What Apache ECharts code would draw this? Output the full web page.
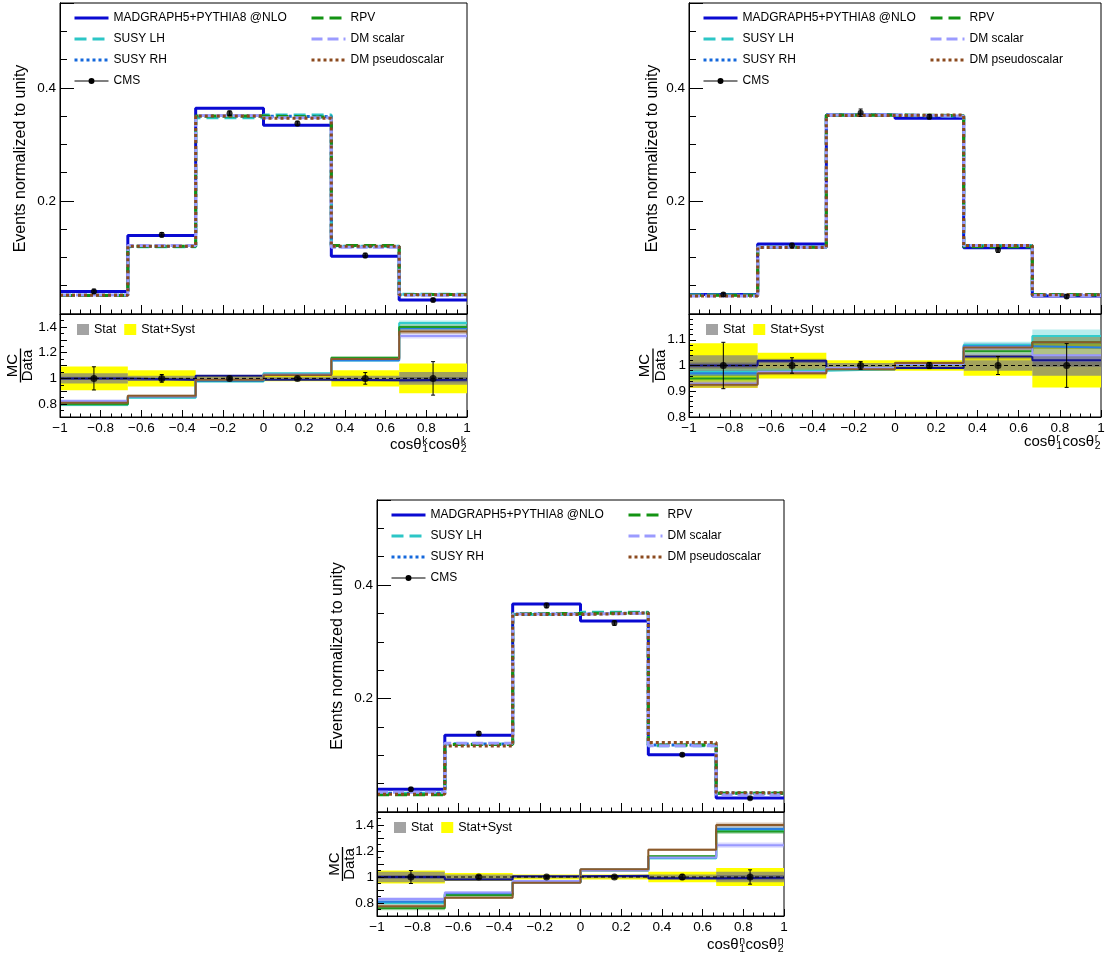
<!DOCTYPE html>
<html>
<head>
<meta charset="utf-8">
<title>Spin correlation observables</title>
<script src="https://cdn.jsdelivr.net/npm/echarts@6/dist/echarts.min.js"></script>
<style>
    html, body { margin: 0; padding: 0; background: #fff; }
    #main { width: 1106px; height: 963px; }
</style>
</head>
<body>
<div id="main"></div>
<script>
var FONT = '"Liberation Sans", Arial, Helvetica, sans-serif';

// binning shared by the three distributions
var binEdges = [-1, -0.6667, -0.3333, 0, 0.3333, 0.6667, 1];
var binCenters = [-0.8333, -0.5, -0.1667, 0.1667, 0.5, 0.8333];
var modelNames = ['MADGRAPH5+PYTHIA8 @NLO', 'SUSY LH', 'SUSY RH', 'RPV', 'DM scalar', 'DM pseudoscalar'];
var ratioRef = 1;

// cos(theta1 k) cos(theta2 k)
var kData = [0.0400, 0.1400, 0.3550, 0.3370, 0.1035, 0.0246];
var kDataErr = [0.004, 0.004, 0.004, 0.004, 0.004, 0.003];
var kMadgraph = [0.0400, 0.1390, 0.3640, 0.3340, 0.1020, 0.0246];
var kSusyLH = [0.0330, 0.1190, 0.3470, 0.3520, 0.1200, 0.0350];
var kSusyRH = [0.0330, 0.1200, 0.3500, 0.3490, 0.1190, 0.0340];
var kRpv = [0.0325, 0.1200, 0.3500, 0.3480, 0.1210, 0.0345];
var kDmScalar = [0.0335, 0.1210, 0.3510, 0.3470, 0.1180, 0.0330];
var kDmPseudo = [0.0330, 0.1200, 0.3500, 0.3460, 0.1200, 0.0340];
var kRatioMadgraph = [1.00, 0.99, 1.02, 0.99, 0.985, 0.99];
var kRatioSusyLH = [0.795, 0.85, 0.975, 1.04, 1.14, 1.43];
var kRatioSusyRH = [0.81, 0.855, 0.98, 1.03, 1.14, 1.39];
var kRatioRpv = [0.80, 0.86, 0.985, 1.03, 1.16, 1.40];
var kRatioDmScalar = [0.825, 0.86, 0.99, 1.03, 1.15, 1.33];
var kRatioDmPseudo = [0.81, 0.865, 0.99, 1.025, 1.15, 1.365];
var kStat = [0.04, 0.02, 0.01, 0.01, 0.02, 0.05];
var kStatSyst = [0.093, 0.064, 0.025, 0.022, 0.064, 0.115];
var kRatioErr = [0.09, 0.03, 0.01, 0.01, 0.045, 0.13];
var kMcUnc = [0.012, 0.008, 0.005, 0.005, 0.01, 0.02];

// cos(theta1 r) cos(theta2 r)
var rData = [0.0345, 0.1210, 0.3560, 0.3490, 0.1130, 0.0310];
var rDataErr = [0.003, 0.004, 0.0065, 0.004, 0.004, 0.003];
var rMadgraph = [0.0345, 0.1240, 0.3520, 0.3460, 0.1170, 0.0320];
var rSusyLH = [0.0335, 0.1180, 0.3510, 0.3500, 0.1210, 0.0345];
var rSusyRH = [0.0335, 0.1180, 0.3520, 0.3500, 0.1210, 0.0335];
var rRpv = [0.0330, 0.1180, 0.3520, 0.3510, 0.1190, 0.0340];
var rDmScalar = [0.0320, 0.1180, 0.3520, 0.3500, 0.1210, 0.0325];
var rDmPseudo = [0.0320, 0.1175, 0.3510, 0.3520, 0.1210, 0.0340];
var rRatioMadgraph = [1.00, 1.018, 0.99, 0.99, 1.035, 1.02];
var rRatioSusyLH = [0.975, 0.98, 0.985, 1.005, 1.08, 1.115];
var rRatioSusyRH = [0.97, 0.975, 0.99, 1.005, 1.075, 1.07];
var rRatioRpv = [0.95, 0.975, 0.99, 1.01, 1.055, 1.09];
var rRatioDmScalar = [0.93, 0.975, 0.99, 1.005, 1.07, 1.04];
var rRatioDmPseudo = [0.925, 0.97, 0.985, 1.01, 1.07, 1.09];
var rStat = [0.04, 0.02, 0.01, 0.01, 0.02, 0.04];
var rStatSyst = [0.086, 0.05, 0.02, 0.02, 0.04, 0.085];
var rRatioErr = [0.09, 0.03, 0.015, 0.012, 0.035, 0.085];
var rMcUnc = [0.012, 0.008, 0.005, 0.005, 0.012, 0.025];

// cos(theta1 n) cos(theta2 n)
var nData = [0.0400, 0.1385, 0.3640, 0.3330, 0.1010, 0.0243];
var nDataErr = [0.003, 0.003, 0.004, 0.004, 0.003, 0.002];
var nMadgraph = [0.0400, 0.1355, 0.3666, 0.3367, 0.1010, 0.0246];
var nSusyLH = [0.0330, 0.1200, 0.3480, 0.3520, 0.1170, 0.0330];
var nSusyRH = [0.0330, 0.1200, 0.3490, 0.3510, 0.1180, 0.0333];
var nRpv = [0.0305, 0.1190, 0.3500, 0.3510, 0.1180, 0.0330];
var nDmScalar = [0.0350, 0.1210, 0.3490, 0.3500, 0.1170, 0.0303];
var nDmPseudo = [0.0315, 0.1165, 0.3480, 0.3510, 0.1225, 0.0340];
var nRatioMadgraph = [1.00, 0.98, 1.005, 1.01, 0.99, 0.995];
var nRatioSusyLH = [0.80, 0.87, 0.96, 1.055, 1.145, 1.36];
var nRatioSusyRH = [0.81, 0.87, 0.96, 1.055, 1.15, 1.37];
var nRatioRpv = [0.76, 0.86, 0.965, 1.05, 1.16, 1.35];
var nRatioDmScalar = [0.83, 0.88, 0.97, 1.05, 1.15, 1.245];
var nRatioDmPseudo = [0.775, 0.84, 0.955, 1.06, 1.21, 1.40];
var nStat = [0.04, 0.02, 0.01, 0.01, 0.02, 0.04];
var nStatSyst = [0.05, 0.03, 0.02, 0.02, 0.04, 0.07];
var nRatioErr = [0.05, 0.012, 0.01, 0.01, 0.02, 0.055];
var nMcUnc = [0.015, 0.01, 0.005, 0.005, 0.01, 0.02];

// styles
var histColors = ['#0a0ad2', '#2cc6c6', '#1468dc', '#139313', '#9b9bff', '#8b4a1e'];
var histDash = ['solid', [12, 6], [3, 3], [12, 6], [11, 5], [3, 3]];
var ratioColors = ['#14148c', '#33cccc', '#2a7fe0', '#229922', '#9999ff', '#8b5a2b'];
var ratioBandColors = ['rgba(20,20,140,0.3)', 'rgba(51,204,204,0.35)', 'rgba(42,127,224,0.3)',
    'rgba(34,153,34,0.3)', 'rgba(153,153,255,0.35)', 'rgba(139,90,43,0.3)'];
var CMS_ICON = 'path://M0,6.5H34V7.5H0Z M17,4A3,3 0 1,1 17,10A3,3 0 1,1 17,4Z';

var panels = [
    {
        letter: 'k', left: 60, top: 3, width: 407, upH: 311, loH: 103,
        data: kData, dataErr: kDataErr,
        hists: [kMadgraph, kSusyLH, kSusyRH, kRpv, kDmScalar, kDmPseudo],
        ratios: [kRatioMadgraph, kRatioSusyLH, kRatioSusyRH, kRatioRpv, kRatioDmScalar, kRatioDmPseudo],
        stat: kStat, statSyst: kStatSyst, ratioErr: kRatioErr, mcUnc: kMcUnc,
        rMin: 0.7, rMax: 1.5, rMinor: 2, rLabels: [0.8, 1, 1.2, 1.4],
        nameGap: 31, mcX: 20.5, titleBase: 450, leg2: 250
    },
    {
        letter: 'r', left: 689, top: 3, width: 412, upH: 311, loH: 103,
        data: rData, dataErr: rDataErr,
        hists: [rMadgraph, rSusyLH, rSusyRH, rRpv, rDmScalar, rDmPseudo],
        ratios: [rRatioMadgraph, rRatioSusyLH, rRatioSusyRH, rRatioRpv, rRatioDmScalar, rRatioDmPseudo],
        stat: rStat, statSyst: rStatSyst, ratioErr: rRatioErr, mcUnc: rMcUnc,
        rMin: 0.8, rMax: 1.2, rMinor: 5, rLabels: [0.8, 0.9, 1, 1.1],
        nameGap: 28, mcX: 653, titleBase: 447, leg2: 240
    },
    {
        letter: 'n', left: 377, top: 500, width: 407, upH: 312, loH: 104,
        data: nData, dataErr: nDataErr,
        hists: [nMadgraph, nSusyLH, nSusyRH, nRpv, nDmScalar, nDmPseudo],
        ratios: [nRatioMadgraph, nRatioSusyLH, nRatioSusyRH, nRatioRpv, nRatioDmScalar, nRatioDmPseudo],
        stat: nStat, statSyst: nStatSyst, ratioErr: nRatioErr, mcUnc: nMcUnc,
        rMin: 0.7, rMax: 1.5, rMinor: 2, rLabels: [0.8, 1, 1.2, 1.4],
        nameGap: 31, mcX: 342.5, titleBase: 950, leg2: 250
    }
];

function fmtNum(v) {
    return String(Math.round(v * 1000) / 1000).replace('-', '\u2212');
}

function inList(v, list) {
    for (var i = 0; i < list.length; i++) {
        if (Math.abs(v - list[i]) < 1e-6) return true;
    }
    return false;
}

function stepData(vals) {
    return binEdges.map(function (e, i) {
        return [e, vals[Math.min(i, vals.length - 1)]];
    });
}

function bandData(center, half) {
    return half.map(function (h, i) {
        var c = Array.isArray(center) ? center[i] : center;
        return [binEdges[i], binEdges[i + 1], c - h, c + h];
    });
}

function pointData(vals, errs) {
    return binCenters.map(function (x, i) {
        var v = Array.isArray(vals) ? vals[i] : vals;
        return [x, v, errs[i]];
    });
}

function bandRender(params, api) {
    var a = api.coord([api.value(0), api.value(3)]);
    var b = api.coord([api.value(1), api.value(2)]);
    return {
        type: 'rect',
        shape: {x: a[0], y: a[1], width: b[0] - a[0], height: b[1] - a[1]},
        style: {fill: api.visual('color')}
    };
}

function errorRender(params, api) {
    var x = api.value(0), y = api.value(1), e = api.value(2);
    var top = api.coord([x, y + e]);
    var bot = api.coord([x, y - e]);
    var st = {stroke: '#000', lineWidth: 1};
    return {
        type: 'group',
        children: [
            {type: 'line', shape: {x1: top[0], y1: top[1], x2: bot[0], y2: bot[1]}, style: st},
            {type: 'line', shape: {x1: top[0] - 2, y1: top[1], x2: top[0] + 2, y2: top[1]}, style: st},
            {type: 'line', shape: {x1: bot[0] - 2, y1: bot[1], x2: bot[0] + 2, y2: bot[1]}, style: st}
        ]
    };
}

var measureCtx = document.createElement('canvas').getContext('2d');
function textWidth(str, size) {
    measureCtx.font = size + 'px ' + FONT;
    return measureCtx.measureText(str).width;
}

function plainText(x, y, str, size, align) {
    return {
        type: 'text', x: x, y: y,
        style: {text: str, font: size + 'px ' + FONT, fill: '#000', textAlign: align || 'left', textVerticalAlign: 'middle'}
    };
}

// cosθ with stacked sub/superscripts, right-aligned on the frame
function axisTitle(rightX, baseY, letter) {
    var big = 15, small = 10.5;
    var wMain = textWidth('cos\u03b8', big);
    var wScript = Math.max(textWidth(letter, small), textWidth('1', small));
    var x = rightX - 2 * (wMain + wScript + 1);
    var kids = [];
    ['1', '2'].forEach(function (sub) {
        kids.push(plainText(x, baseY - 0.35 * big, 'cos\u03b8', big));
        kids.push(plainText(x + wMain + 0.5, baseY - 5 - 0.35 * small, letter, small));
        kids.push(plainText(x + wMain + 0.5, baseY + 3 - 0.35 * small, sub, small));
        x += wMain + wScript + 1;
    });
    return {type: 'group', children: kids};
}

function mcOverData(cx, cy) {
    return {
        type: 'group', x: cx, y: cy, rotation: Math.PI / 2,
        children: [
            plainText(0, -8, 'MC', 15, 'center'),
            plainText(0, 7.5, 'Data', 15, 'center'),
            {type: 'line', shape: {x1: -17, y1: 0, x2: 17, y2: 0}, style: {stroke: '#000', lineWidth: 1.3}}
        ]
    };
}

var axisBlack = {show: true, onZero: false, lineStyle: {color: '#000', width: 1}};

function xAxisDef(gridIndex, withLabels, tickLen) {
    return {
        type: 'value', gridIndex: gridIndex, position: 'bottom',
        min: -1, max: 1, interval: 0.2, z: 10,
        axisLine: axisBlack,
        axisTick: {show: true, inside: true, length: tickLen, lineStyle: {color: '#000'}},
        minorTick: {show: true, splitNumber: 4, length: tickLen / 2, lineStyle: {color: '#000'}},
        splitLine: {show: false},
        axisLabel: {
            show: withLabels, color: '#000', fontFamily: FONT, fontSize: 13.5, margin: 4,
            showMinLabel: true, showMaxLabel: true, formatter: fmtNum
        }
    };
}

var option = {
    animation: false,
    backgroundColor: '#fff',
    textStyle: {fontFamily: FONT},
    grid: [], xAxis: [], yAxis: [], series: [], legend: [], graphic: []
};

panels.forEach(function (p, pi) {
    var gUp = option.grid.length;
    option.grid.push({
        left: p.left, top: p.top, width: p.width, height: p.upH,
        show: true, borderColor: '#000', borderWidth: 1, outerBoundsMode: 'none'
    });
    var gLo = option.grid.length;
    option.grid.push({
        left: p.left, top: p.top + p.upH, width: p.width, height: p.loH,
        show: true, borderColor: '#000', borderWidth: 1, outerBoundsMode: 'none'
    });

    var xUp = option.xAxis.length;
    option.xAxis.push(xAxisDef(gUp, false, 9));
    var xLo = option.xAxis.length;
    option.xAxis.push(xAxisDef(gLo, true, 7));

    // upper pad: minor ticks every 0.05, labelled major ticks every 0.2
    option.yAxis.push({
        type: 'value', gridIndex: gUp, position: 'left', min: 0, max: 0.55, interval: 0.05, z: 10,
        axisLine: axisBlack,
        axisTick: {show: true, inside: true, length: 7, lineStyle: {color: '#000'}},
        axisLabel: {show: false}, splitLine: {show: false}
    });
    var yUp = option.yAxis.length;
    option.yAxis.push({
        type: 'value', gridIndex: gUp, position: 'left', min: 0, max: 0.55, interval: 0.2, z: 10,
        axisLine: axisBlack,
        axisTick: {show: true, inside: true, length: 14, lineStyle: {color: '#000'}},
        splitLine: {show: false},
        axisLabel: {
            color: '#000', fontFamily: FONT, fontSize: 13.5, margin: 4,
            formatter: function (v) { return inList(v, [0.2, 0.4]) ? fmtNum(v) : ''; }
        },
        name: 'Events normalized to unity', nameLocation: 'middle', nameRotate: 90, nameGap: p.nameGap,
        nameTextStyle: {color: '#000', fontFamily: FONT, fontSize: 16}
    });
    var yLo = option.yAxis.length;
    option.yAxis.push({
        type: 'value', gridIndex: gLo, position: 'left', min: p.rMin, max: p.rMax, interval: 0.1, z: 10,
        axisLine: axisBlack,
        axisTick: {show: true, inside: true, length: 7, lineStyle: {color: '#000'}},
        minorTick: {show: true, splitNumber: p.rMinor, length: 4, lineStyle: {color: '#000'}},
        splitLine: {show: false},
        axisLabel: {
            color: '#000', fontFamily: FONT, fontSize: 13.5, margin: 3,
            showMinLabel: true, showMaxLabel: true,
            formatter: (function (labels) {
                return function (v) { return inList(v, labels) ? fmtNum(v) : ''; };
            })(p.rLabels)
        }
    });

    // ---- upper pad: normalized distributions
    p.hists.forEach(function (vals, m) {
        option.series.push({
            name: modelNames[m], type: 'line', step: 'end', symbol: 'none',
            xAxisIndex: xUp, yAxisIndex: yUp, z: 3 + m * 0.01,
            data: stepData(vals),
            lineStyle: {color: histColors[m], width: 3, type: histDash[m]},
            itemStyle: {color: histColors[m]}
        });
    });
    option.series.push({
        name: 'CMS err ' + pi, type: 'custom', xAxisIndex: xUp, yAxisIndex: yUp, z: 4,
        renderItem: errorRender, encode: {x: 0, y: 1},
        data: pointData(p.data, p.dataErr)
    });
    option.series.push({
        name: 'CMS', type: 'scatter', xAxisIndex: xUp, yAxisIndex: yUp, z: 4,
        symbol: 'circle', symbolSize: 6, itemStyle: {color: '#000'},
        data: binCenters.map(function (x, i) { return [x, p.data[i]]; })
    });

    // ---- lower pad: MC / data
    option.series.push({
        name: 'Stat+Syst', type: 'custom', xAxisIndex: xLo, yAxisIndex: yLo, z: 2, clip: true,
        renderItem: bandRender, encode: {x: [0, 1], y: [2, 3]},
        itemStyle: {color: '#ffff00'},
        data: bandData(ratioRef, p.statSyst)
    });
    option.series.push({
        name: 'Stat', type: 'custom', xAxisIndex: xLo, yAxisIndex: yLo, z: 2, clip: true,
        renderItem: bandRender, encode: {x: [0, 1], y: [2, 3]},
        itemStyle: {color: 'rgba(128,128,128,0.72)'},
        data: bandData(ratioRef, p.stat)
    });
    p.ratios.forEach(function (vals, m) {
        option.series.push({
            name: 'unc ' + pi + ' ' + m, type: 'custom', xAxisIndex: xLo, yAxisIndex: yLo, z: 2, clip: true,
            renderItem: bandRender, encode: {x: [0, 1], y: [2, 3]},
            itemStyle: {color: ratioBandColors[m]},
            data: bandData(vals, p.mcUnc)
        });
    });
    p.ratios.forEach(function (vals, m) {
        option.series.push({
            name: 'ratio ' + pi + ' ' + m, type: 'line', step: 'end', symbol: 'none',
            xAxisIndex: xLo, yAxisIndex: yLo, z: 3,
            data: stepData(vals),
            lineStyle: {color: ratioColors[m], width: 2}
        });
    });
    option.series.push({
        name: 'ref ' + pi, type: 'line', symbol: 'none', xAxisIndex: xLo, yAxisIndex: yLo, z: 4,
        data: [[binEdges[0], ratioRef], [binEdges[binEdges.length - 1], ratioRef]],
        lineStyle: {color: '#000', width: 1, type: [4, 3]}
    });
    option.series.push({
        name: 'ratio err ' + pi, type: 'custom', xAxisIndex: xLo, yAxisIndex: yLo, z: 5,
        renderItem: errorRender, encode: {x: 0, y: 1},
        data: pointData(ratioRef, p.ratioErr)
    });
    option.series.push({
        name: 'ratio pts ' + pi, type: 'scatter', xAxisIndex: xLo, yAxisIndex: yLo, z: 5,
        symbol: 'circle', symbolSize: 7, itemStyle: {color: '#000'},
        data: binCenters.map(function (x) { return [x, ratioRef]; })
    });

    // ---- legends
    var legendText = {color: '#000', fontFamily: FONT, fontSize: 12};
    option.legend.push({
        left: p.left + 13, top: p.top + 9, orient: 'vertical', padding: 0,
        itemWidth: 34, itemHeight: 14, itemGap: 9, selectedMode: false,
        itemStyle: {opacity: 0}, lineStyle: {width: 3}, textStyle: legendText,
        data: [modelNames[0], modelNames[1], modelNames[2],
            {name: 'CMS', icon: CMS_ICON, itemStyle: {opacity: 1, color: '#000'}}]
    });
    option.legend.push({
        left: p.left + p.leg2, top: p.top + 9, orient: 'vertical', padding: 0,
        itemWidth: 34, itemHeight: 14, itemGap: 9, selectedMode: false,
        itemStyle: {opacity: 0}, lineStyle: {width: 3}, textStyle: legendText,
        data: [modelNames[3], modelNames[4], modelNames[5]]
    });
    option.legend.push({
        left: p.left + 17, top: p.top + p.upH + 9, orient: 'horizontal', padding: 0,
        itemWidth: 12, itemHeight: 11, itemGap: 8, selectedMode: false,
        textStyle: {color: '#000', fontFamily: FONT, fontSize: 12.5},
        data: [{name: 'Stat', icon: 'rect'}, {name: 'Stat+Syst', icon: 'rect'}]
    });

    // ---- axis titles drawn as text
    option.graphic.push(mcOverData(p.mcX, p.top + p.upH + p.loH / 2));
    option.graphic.push(axisTitle(p.left + p.width, p.titleBase, p.letter));
});

var myChart = echarts.init(document.getElementById('main'), null, {renderer: 'canvas'});
myChart.setOption(option, true);
</script>
</body>
</html>
